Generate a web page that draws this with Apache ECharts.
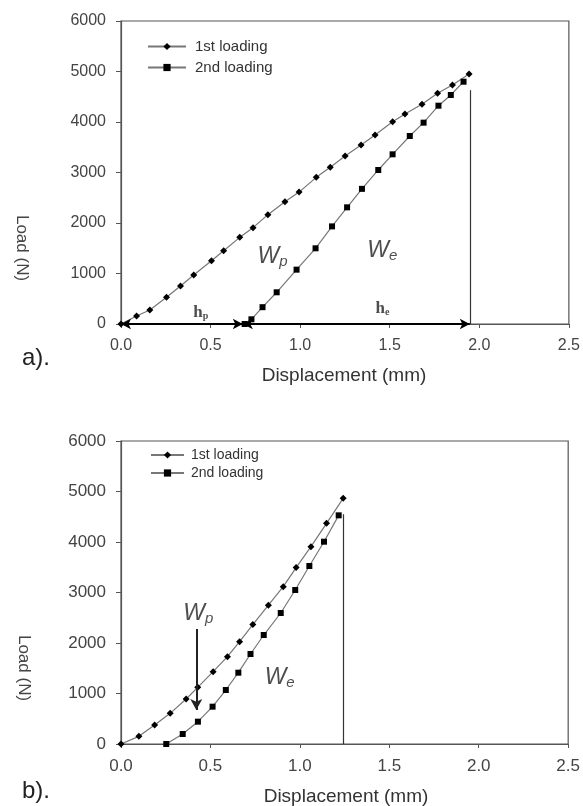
<!DOCTYPE html>
<html>
<head>
<meta charset="utf-8">
<script src="https://cdn.jsdelivr.net/npm/echarts@6/dist/echarts.min.js"></script>
<style>html,body{margin:0;padding:0;background:#fff;}#c{width:583px;height:806px;}</style>
</head>
<body>
<div id="c"></div>
<script>
// ---- Data (a) ----
const a1X = [0, 0.087, 0.161, 0.254, 0.332, 0.406, 0.505, 0.573, 0.663, 0.737, 0.820, 0.915, 0.994, 1.090, 1.168, 1.251, 1.340, 1.418, 1.516, 1.585, 1.680, 1.767, 1.850, 1.943];
const a1Y = [0, 158, 277, 528, 752, 970, 1254, 1452, 1716, 1908, 2165, 2422, 2612, 2904, 3103, 3327, 3545, 3743, 4006, 4158, 4350, 4568, 4733, 4950];
const a2X = [0.69, 0.728, 0.790, 0.869, 0.980, 1.086, 1.178, 1.262, 1.345, 1.436, 1.516, 1.612, 1.689, 1.772, 1.841, 1.912];
const a2Y = [0, 93, 333, 628, 1076, 1499, 1933, 2310, 2676, 3050, 3360, 3723, 3987, 4323, 4535, 4798];
// ---- Data (b) ----
const b1X = [0, 0.10, 0.188, 0.275, 0.364, 0.429, 0.515, 0.595, 0.663, 0.737, 0.824, 0.907, 0.979, 1.062, 1.149, 1.242];
const b1Y = [0, 152, 376, 607, 891, 1122, 1432, 1729, 2026, 2366, 2750, 3115, 3494, 3907, 4370, 4865];
const b2X = [0.253, 0.345, 0.430, 0.512, 0.586, 0.656, 0.724, 0.798, 0.893, 0.974, 1.053, 1.135, 1.217];
const b2Y = [0, 198, 442, 739, 1069, 1412, 1782, 2158, 2594, 3050, 3525, 4006, 4528];
// ---- Axes ----
const xTicks = [0, 0.5, 1.0, 1.5, 2.0, 2.5];
const yTicks = [0, 1000, 2000, 3000, 4000, 5000, 6000];
const seriesNames = ['1st loading', '2nd loading'];
// ---- Annotations (data coordinates) ----
const aUnloadX = 1.947, aUnloadTop = 4630;
const aHp = [0, 0.68];
const aHe = [0.68, 1.947];
const bUnloadX = 1.242, bUnloadTop = 4550;
const bWpArrow = [0.421, 2277, 673];

const zip = (xs, ys) => xs.map((x, i) => [x, ys[i]]);

const axisCol = '#555';
const lineCol = '#777';
const FF = 'Liberation Sans';
function xAxis(gi, fs) {
  return {
    type: 'value', gridIndex: gi, min: xTicks[0], max: xTicks[xTicks.length - 1], interval: 0.5,
    axisLine: {show: true, lineStyle: {color: axisCol, width: 1.2}},
    axisTick: {show: true, length: 4, lineStyle: {color: axisCol}},
    splitLine: {show: false},
    axisLabel: {color: '#444', fontSize: fs, fontFamily: FF, margin: 14,
      formatter: v => v.toFixed(1)}
  };
}
function yAxis(gi, fs) {
  return {
    type: 'value', gridIndex: gi, min: yTicks[0], max: yTicks[yTicks.length - 1], interval: 1000,
    axisLine: {show: true, lineStyle: {color: axisCol, width: 1.2}},
    axisTick: {show: true, length: 5, lineStyle: {color: axisCol}},
    splitLine: {show: false},
    axisLabel: {color: '#444', fontSize: fs, fontFamily: FF, margin: 15, formatter: v => String(v)}
  };
}
function lineSeries(name, gi, data, sym, size) {
  return {
    name: name, type: 'line', xAxisIndex: gi, yAxisIndex: gi, data: data,
    symbol: sym, symbolSize: size, showSymbol: true,
    lineStyle: {color: lineCol, width: 1.2},
    itemStyle: {color: '#000'}, animation: false, z: 3
  };
}
const rich = {
  w: {fontSize: 23, fontStyle: 'italic', fontFamily: FF, color: '#222'},
  s: {fontSize: 15, fontStyle: 'italic', fontFamily: FF, color: '#222', padding: [10, 0, 0, 0]},
  h: {fontSize: 17, fontWeight: 'bold', fontFamily: 'Liberation Serif', color: '#222'},
  hs: {fontSize: 10, fontWeight: 'bold', fontFamily: 'Liberation Serif', color: '#222', padding: [8, 0, 0, 0]}
};
function textSeries(gi, items) {
  return {
    type: 'scatter', xAxisIndex: gi, yAxisIndex: gi, symbolSize: 0, silent: true, animation: false,
    data: items.map(it => ({value: [it[0], it[1]], label: {show: true, position: 'inside', formatter: it[2], rich: rich}})),
    z: 5
  };
}

const option = {
  backgroundColor: '#fff',
  animation: false,
  grid: [
    {left: 121, top: 21, width: 449, height: 303, show: true, borderColor: axisCol, borderWidth: 1.2, containLabel: false},
    {left: 121, top: 441, width: 451, height: 303, show: true, borderColor: axisCol, borderWidth: 1.2, containLabel: false}
  ],
  legend: [
    {data: seriesNames, orient: 'vertical', left: 142, top: 34, itemWidth: 38, itemHeight: 9, itemGap: 6,
     textStyle: {fontSize: 15, color: '#333', fontFamily: FF, padding: [0, 0, 0, 4]}, selectedMode: false},
    {data: seriesNames, orient: 'vertical', left: 145, top: 443, itemWidth: 33, itemHeight: 9, itemGap: 4,
     textStyle: {fontSize: 14, color: '#333', fontFamily: FF, padding: [0, 0, 0, 2]}, selectedMode: false}
  ],
  xAxis: [xAxis(0, 16), xAxis(1, 17)],
  yAxis: [yAxis(0, 16), yAxis(1, 17)],
  series: [
    lineSeries(seriesNames[0], 0, zip(a1X, a1Y), 'diamond', 7),
    lineSeries(seriesNames[1], 0, zip(a2X, a2Y), 'rect', 6),
    lineSeries(seriesNames[0], 1, zip(b1X, b1Y), 'diamond', 7),
    lineSeries(seriesNames[1], 1, zip(b2X, b2Y), 'rect', 6),
    {
      type: 'line', xAxisIndex: 0, yAxisIndex: 0, data: [], silent: true, animation: false,
      markLine: {
        silent: true, animation: false, label: {show: false}, symbol: ['none', 'none'],
        data: [
          [{coord: [aUnloadX, 0], symbol: 'none', lineStyle: {color: '#333', width: 1.2, type: 'solid'}},
           {coord: [aUnloadX, aUnloadTop], symbol: 'none'}],
          [{coord: [aHp[1], 0], symbol: 'arrow', symbolSize: [8, 10], lineStyle: {color: '#000', width: 1.8, type: 'solid'}},
           {coord: [aHp[0], 0], symbol: 'arrow', symbolSize: [8, 10]}],
          [{coord: [aHe[0], 0], symbol: 'arrow', symbolSize: [8, 10], lineStyle: {color: '#000', width: 2, type: 'solid'}},
           {coord: [aHe[1], 0], symbol: 'arrow', symbolSize: [8, 10]}]
        ]
      }
    },
    {
      type: 'line', xAxisIndex: 1, yAxisIndex: 1, data: [], silent: true, animation: false,
      markLine: {
        silent: true, animation: false, label: {show: false}, symbol: ['none', 'none'],
        data: [
          [{coord: [bUnloadX, 0], symbol: 'none', lineStyle: {color: '#333', width: 1.2, type: 'solid'}},
           {coord: [bUnloadX, bUnloadTop], symbol: 'none'}],
          [{coord: [bWpArrow[0], bWpArrow[1]], symbol: 'none', lineStyle: {color: '#222', width: 2, type: 'solid'}},
           {coord: [bWpArrow[0], bWpArrow[2]], symbol: 'arrow', symbolSize: [9, 11]}]
        ]
      }
    },
    textSeries(0, [
      [0.846, 1331, '{w|W}{s|p}'],
      [1.459, 1450, '{w|W}{s|e}'],
      [0.445, 224, '{h|h}{hs|p}'],
      [1.459, 303, '{h|h}{hs|e}']
    ]),
    textSeries(1, [
      [0.432, 2574, '{w|W}{s|p}'],
      [0.887, 1307, '{w|W}{s|e}']
    ])
  ],
  graphic: [
    {type: 'text', x: 344, y: 376, style: {text: 'Displacement (mm)', fontSize: 19, fill: '#333', fontFamily: FF, align: 'center', verticalAlign: 'middle'}},
    {type: 'text', x: 346, y: 797, style: {text: 'Displacement (mm)', fontSize: 19, fill: '#333', fontFamily: FF, align: 'center', verticalAlign: 'middle'}},
    {type: 'text', x: 22, y: 248, rotation: -Math.PI / 2, style: {text: 'Load (N)', fontSize: 17, fill: '#444', fontFamily: FF, align: 'center', verticalAlign: 'middle'}},
    {type: 'text', x: 24, y: 668, rotation: -Math.PI / 2, style: {text: 'Load (N)', fontSize: 17, fill: '#444', fontFamily: FF, align: 'center', verticalAlign: 'middle'}},
    {type: 'text', x: 22, y: 358, style: {text: 'a).', fontSize: 24, fill: '#222', fontFamily: FF, verticalAlign: 'middle'}},
    {type: 'text', x: 22, y: 791, style: {text: 'b).', fontSize: 24, fill: '#222', fontFamily: FF, verticalAlign: 'middle'}}
  ]
};
const chart = echarts.init(document.getElementById('c'), null, {renderer: 'canvas'});
chart.setOption(option);
</script>
</body>
</html>
